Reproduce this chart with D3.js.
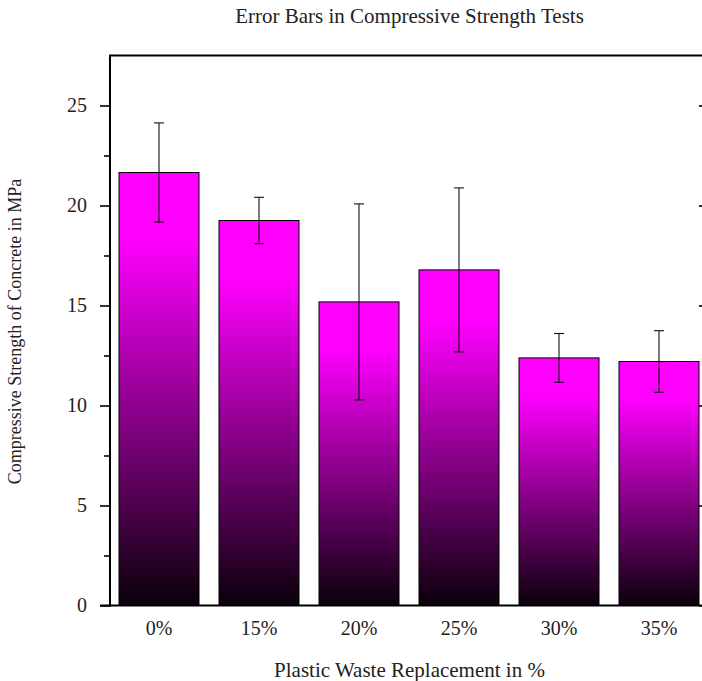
<!DOCTYPE html>
<html>
<head>
<meta charset="utf-8">
<script src="https://cdn.jsdelivr.net/npm/d3@7"></script>
<style>
  html, body { margin: 0; padding: 0; background: #fff; overflow: hidden; }
  svg { display: block; }
  #chart text { font-family: "Liberation Serif", "Times New Roman", serif; fill: #222; }
</style>
</head>
<body>
<svg id="chart" width="702" height="681"></svg>
<script>
// Mean compressive strength (MPa) and standard deviation per replacement level
const categories = ["0%", "15%", "20%", "25%", "30%", "35%"];
const strength = [21.65, 19.25, 15.18, 16.78, 12.38, 12.2];
const errors = [2.48, 1.16, 4.9, 4.1, 1.22, 1.54];
const majorTicks = [0, 5, 10, 15, 20, 25];
const minorTicks = [2.5, 7.5, 12.5, 17.5, 22.5];

const svg = d3.select("#chart");
const plotLeft = 110, plotRight = 709, plotTop = 55.5, plotBottom = 605.5;

const x = d3.scaleBand().domain(categories).range([plotLeft - 1, plotRight])
  .paddingInner(0.2).paddingOuter(0.1);
const y = d3.scaleLinear().domain([0, 27.5]).range([plotBottom, plotTop]);

// vertical gradient: magenta at the top of each bar fading to black at its base
const grad = svg.append("defs").append("linearGradient")
  .attr("id", "barFill").attr("x1", 0).attr("y1", 0).attr("x2", 0).attr("y2", 1);
grad.append("stop").attr("offset", 0).attr("stop-color", "#ff00ff");
grad.append("stop").attr("offset", 0.15).attr("stop-color", "#ff00ff");
grad.append("stop").attr("offset", 1).attr("stop-color", "#0a000a");

const data = categories.map((c, i) => ({ c, v: strength[i], e: errors[i] }));

// bars
svg.append("g").selectAll("rect").data(data).join("rect")
  .attr("x", d => x(d.c))
  .attr("y", d => y(d.v))
  .attr("width", x.bandwidth())
  .attr("height", d => y(0) - y(d.v))
  .attr("fill", "url(#barFill)")
  .attr("stroke", "#000")
  .attr("stroke-width", 1);

// error bars
const eb = svg.append("g").attr("stroke", "#111").attr("stroke-width", 1.1);
const cap = 5;
data.forEach(d => {
  const cx = x(d.c) + x.bandwidth() / 2;
  eb.append("line").attr("x1", cx).attr("x2", cx).attr("y1", y(d.v + d.e)).attr("y2", y(d.v - d.e));
  eb.append("line").attr("x1", cx - cap).attr("x2", cx + cap).attr("y1", y(d.v + d.e)).attr("y2", y(d.v + d.e));
  eb.append("line").attr("x1", cx - cap).attr("x2", cx + cap).attr("y1", y(d.v - d.e)).attr("y2", y(d.v - d.e));
});

// left axis: major ticks with labels, minor ticks without
const yAxis = svg.append("g").attr("transform", `translate(${plotLeft},0)`)
  .call(d3.axisLeft(y).tickValues(majorTicks).tickSize(10).tickPadding(13).tickFormat(d3.format("d")));
yAxis.select(".domain").remove();
yAxis.selectAll("line").attr("stroke", "#000").attr("stroke-width", 1.6);
yAxis.selectAll("text").attr("font-size", 20);

const yMinor = svg.append("g").attr("transform", `translate(${plotLeft},0)`)
  .call(d3.axisLeft(y).tickValues(minorTicks).tickSize(6).tickFormat(""));
yMinor.select(".domain").remove();
yMinor.selectAll("line").attr("stroke", "#000").attr("stroke-width", 1.6);

// right axis: inward ticks only
const yRight = svg.append("g").attr("transform", `translate(${plotRight},0)`)
  .call(d3.axisLeft(y).tickValues(majorTicks).tickSize(10).tickFormat(""));
yRight.select(".domain").remove();
yRight.selectAll("line").attr("stroke", "#000").attr("stroke-width", 1.6);

// bottom axis labels
const xAxis = svg.append("g").attr("transform", `translate(0,${plotBottom})`)
  .call(d3.axisBottom(x).tickSize(0).tickPadding(15));
xAxis.select(".domain").remove();
xAxis.selectAll("text").attr("font-size", 20);

// frame
const frame = svg.append("g").attr("stroke", "#000").attr("stroke-width", 2).attr("fill", "none");
frame.append("line").attr("x1", plotLeft).attr("x2", plotLeft).attr("y1", plotTop).attr("y2", plotBottom + 1);
frame.append("line").attr("x1", plotLeft - 10).attr("x2", plotRight + 1).attr("y1", plotBottom).attr("y2", plotBottom);
frame.append("line").attr("x1", plotLeft - 1).attr("x2", plotRight + 1).attr("y1", plotTop).attr("y2", plotTop);
frame.append("line").attr("x1", plotRight).attr("x2", plotRight).attr("y1", plotTop).attr("y2", plotBottom);

// titles
svg.append("text").attr("x", (plotLeft + plotRight) / 2).attr("y", 23)
  .attr("text-anchor", "middle").attr("font-size", 21)
  .text("Error Bars in Compressive Strength Tests");

svg.append("text").attr("x", (plotLeft + plotRight) / 2).attr("y", 677)
  .attr("text-anchor", "middle").attr("font-size", 21)
  .text("Plastic Waste Replacement in %");

svg.append("text")
  .attr("transform", `translate(21,${(plotTop + plotBottom) / 2 + 1}) rotate(-90)`)
  .attr("text-anchor", "middle").attr("font-size", 18)
  .text("Compressive Strength of Concrete in MPa");
</script>
</body>
</html>
